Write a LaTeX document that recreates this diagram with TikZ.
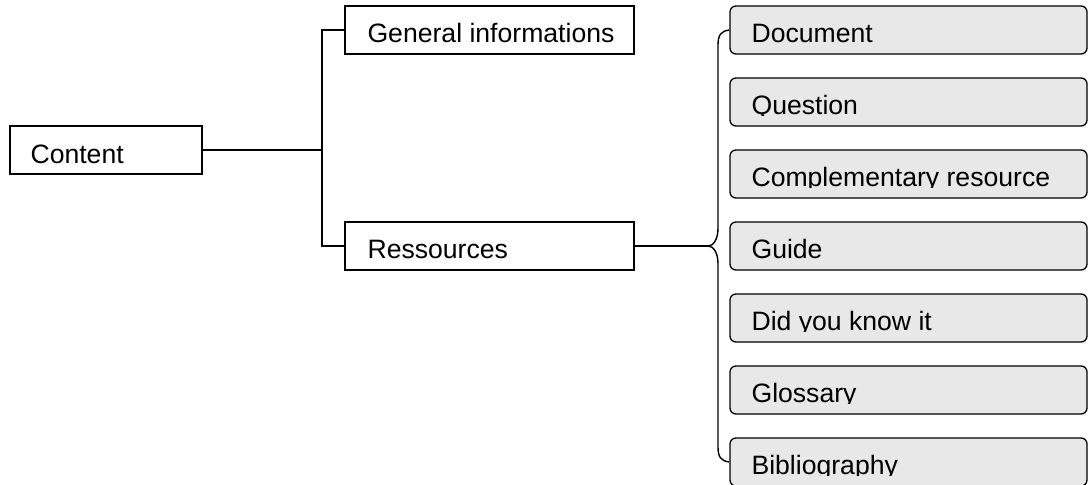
\documentclass[tikz,border=0pt]{standalone}
\usepackage{fontspec}
\setmainfont{Liberation Sans}
\usetikzlibrary{calc}
\definecolor{boxgray}{HTML}{E8E8E8}
\tikzset{
  sqbox/.style={draw=black, line width=1.3pt, rectangle, inner sep=0pt, minimum height=48pt},
  rbox/.style={draw=black, line width=1.3pt, rectangle, rounded corners=6pt, fill=boxgray, inner sep=0pt, minimum width=357pt, minimum height=48pt},
  lbl/.style={anchor=base west, inner sep=0pt, font=\fontsize{26.6}{30}\selectfont},
  conn/.style={line width=1.4pt, draw=black},
}
\newcommand{\cliplabel}[4]{% node name, label name, text, dx
  \begin{scope}
    \clip ($(#1.north west)+(-2,-2)$) rectangle ($(#1.west)+(400,13)$);
    \node[lbl] (#2) at ($(#1.west)+(#4,12)$) {#3};
  \end{scope}}
\begin{document}
\begin{tikzpicture}[x=1pt,y=-1pt]
\useasboundingbox (0,0) rectangle (1088,485);
% left boxes
\node[sqbox, minimum width=192pt] (content) at (106,150) {};
\node[lbl] (contentt) at ($(content.west)+(21,13)$) {Content};
\node[sqbox, minimum width=289pt] (gen) at (489.5,30) {};
\node[lbl] (gent) at ($(gen.west)+(23,12)$) {General informations};
\node[sqbox, minimum width=289pt] (res) at (489.5,246) {};
\node[lbl] (rest) at ($(res.west)+(23,12)$) {Ressources};
% connectors
\coordinate (j) at (322,150);
\draw[conn] (content.east) -- (j);
\draw[conn] (gen.west) -- (gen.west -| j) -- (res.west -| j) -- (res.west);
% right boxes
\node[rbox] (doc) at (908.5,30) {};
\node[rbox] (que) at (908.5,102) {};
\node[rbox] (com) at (908.5,174) {};
\node[rbox] (gui) at (908.5,246) {};
\node[rbox] (did) at (908.5,318) {};
\node[rbox] (glo) at (908.5,390) {};
\node[rbox] (bib) at (908.5,462) {};
\cliplabel{doc}{doct}{Document}{22}
\cliplabel{que}{quet}{Question}{22}
\cliplabel{com}{comt}{Complementary resource}{22}
\cliplabel{gui}{guit}{Guide}{22}
\cliplabel{did}{didt}{Did you know it}{22}
\cliplabel{glo}{glot}{Glossary}{22}
\cliplabel{bib}{bibt}{Bibliography}{22}
% brace
\coordinate (tip) at (708,246);
\draw[conn] (res.east) -- (tip);
\draw[conn] (doc.west) .. controls (721,31) and (718,35) .. (718,45)
  -- (718,228) .. controls (718,240) and (713,246) .. (tip)
  .. controls (713,246) and (718,252) .. (718,264)
  -- (718,447) .. controls (718,457) and (721,461) .. (bib.west);
\end{tikzpicture}
\end{document}
